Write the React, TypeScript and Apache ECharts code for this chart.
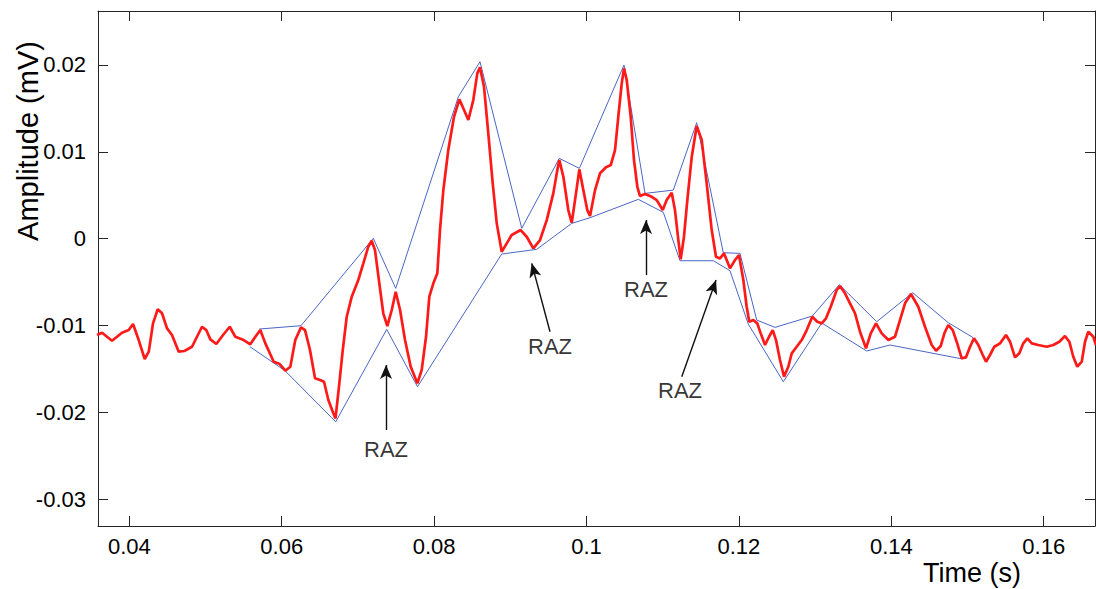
import React, { useEffect, useRef } from "react";
import * as echarts from "echarts";

// Red signal (time s, amplitude mV)
const redTime = [
  0.03576, 0.03642, 0.03773, 0.03904, 0.03992, 0.04049, 0.04123, 0.04202, 0.04255, 0.04311,
  0.04373, 0.04429, 0.04495, 0.0456, 0.04648, 0.04722, 0.04823, 0.04888, 0.04954, 0.0501,
  0.05063, 0.05142, 0.0523, 0.05318, 0.05391, 0.05501, 0.05588, 0.05654, 0.05719, 0.05785,
  0.05895, 0.05974, 0.06047, 0.06113, 0.06178, 0.06253, 0.06306, 0.06371, 0.06437, 0.06503,
  0.06555, 0.06612, 0.06677, 0.06706, 0.06756, 0.06801, 0.06853, 0.06919, 0.07005, 0.07071,
  0.07136, 0.07181, 0.07224, 0.07281, 0.07333, 0.07386, 0.07444, 0.07496, 0.07553, 0.07618,
  0.07693, 0.0778, 0.07837, 0.07894, 0.07937, 0.0799, 0.08042, 0.08077, 0.08121, 0.08186,
  0.08261, 0.08331, 0.08383, 0.08449, 0.08514, 0.08567, 0.08602, 0.08655, 0.08711, 0.08769,
  0.08822, 0.08887, 0.08953, 0.09018, 0.09136, 0.09215, 0.09302, 0.0939, 0.09478, 0.09564,
  0.09617, 0.09643, 0.09696, 0.09761, 0.09806, 0.09862, 0.09906, 0.09958, 0.1001, 0.10046,
  0.10112, 0.10177, 0.10256, 0.10318, 0.10374, 0.10417, 0.10462, 0.10492, 0.10528, 0.1058,
  0.10623, 0.10667, 0.10702, 0.10768, 0.10856, 0.10921, 0.11, 0.11052, 0.11118, 0.11161,
  0.11205, 0.11236, 0.11279, 0.11323, 0.11381, 0.11446, 0.11512, 0.11577, 0.11643, 0.11699,
  0.11752, 0.11804, 0.11883, 0.11949, 0.12001, 0.12058, 0.12102, 0.12136, 0.12189, 0.12241,
  0.12286, 0.12343, 0.12395, 0.12444, 0.12487, 0.12539, 0.12592, 0.12648, 0.12693, 0.12758,
  0.12824, 0.1289, 0.12963, 0.13029, 0.13087, 0.13143, 0.13205, 0.13283, 0.13327, 0.13392,
  0.13458, 0.13524, 0.13589, 0.13668, 0.1373, 0.13799, 0.13874, 0.13961, 0.14048, 0.14114,
  0.1418, 0.14258, 0.14354, 0.14442, 0.1453, 0.14587, 0.14648, 0.14696, 0.14748, 0.14806,
  0.14858, 0.14924, 0.1498, 0.15033, 0.15085, 0.15142, 0.152, 0.15243, 0.15295, 0.15352,
  0.15427, 0.15505, 0.15558, 0.15623, 0.1568, 0.15732, 0.15785, 0.15843, 0.15929, 0.16039,
  0.16126, 0.16205, 0.16279, 0.16336, 0.16388, 0.16441, 0.16499, 0.16542, 0.16585, 0.16651,
  0.16686,
];
const redAmp = [
  -0.01108, -0.01082, -0.01174, -0.01082, -0.01051, -0.00982, -0.01166, -0.01384, -0.013, -0.00974,
  -0.00812, -0.00858, -0.01031, -0.01108, -0.013, -0.01292, -0.01243, -0.01128, -0.01013, -0.01051,
  -0.01158, -0.01212, -0.01108, -0.01013, -0.01128, -0.01166, -0.01215, -0.01128, -0.01051, -0.01204,
  -0.01415, -0.01442, -0.01519, -0.01473, -0.01166, -0.0102, -0.01051, -0.01281, -0.01606, -0.01626,
  -0.01646, -0.01856, -0.02009, -0.02067, -0.01664, -0.01281, -0.00898, -0.00667, -0.00475, -0.00283,
  -0.00092, -0.00023, -0.0013, -0.00513, -0.00858, -0.01005, -0.0082, -0.0061, -0.0082, -0.01166,
  -0.01473, -0.01664, -0.01511, -0.01128, -0.00667, -0.00513, -0.00398, 0.001, 0.0056, 0.01021,
  0.01404, 0.01604, 0.01501, 0.01366, 0.01596, 0.01903, 0.01972, 0.01749, 0.01213, 0.00638,
  0.00177, -0.0015, -0.00053, 0.00043, 0.001, 0.00023, -0.0011, -0.00015, 0.00215, 0.00522,
  0.00791, 0.00906, 0.00713, 0.0033, 0.00184, 0.00522, 0.00799, 0.0056, 0.0033, 0.00261,
  0.0056, 0.00753, 0.00822, 0.00848, 0.01021, 0.01404, 0.01788, 0.01961, 0.01826, 0.01404,
  0.00906, 0.00598, 0.00491, 0.00514, 0.00483, 0.00445, 0.0033, 0.00445, 0.00529, 0.0033,
  -0.00015, -0.00237, 0.00023, 0.00445, 0.00944, 0.01297, 0.01136, 0.00638, 0.001, -0.00207,
  -0.00226, -0.00168, -0.00341, -0.00245, -0.00188, -0.00475, -0.00783, -0.00955, -0.00936, -0.00974,
  -0.01089, -0.01223, -0.01128, -0.01051, -0.01166, -0.01396, -0.01588, -0.01473, -0.01319, -0.01243,
  -0.01166, -0.01051, -0.00898, -0.00955, -0.00974, -0.00916, -0.00783, -0.0059, -0.00544, -0.00628,
  -0.00743, -0.00858, -0.0107, -0.01261, -0.01089, -0.00974, -0.01089, -0.01166, -0.01128, -0.00936,
  -0.00743, -0.00636, -0.00783, -0.01013, -0.01223, -0.01289, -0.01235, -0.01089, -0.00993, -0.01051,
  -0.01185, -0.01376, -0.01365, -0.01243, -0.01146, -0.01223, -0.01338, -0.01415, -0.01338, -0.01243,
  -0.01204, -0.01108, -0.01185, -0.01365, -0.01319, -0.01204, -0.01146, -0.01204, -0.01223, -0.01243,
  -0.01223, -0.01185, -0.0112, -0.01185, -0.01358, -0.01473, -0.01415, -0.01185, -0.0107, -0.01128,
  -0.01223,
];

// Upper envelope (blue)
const upperTime = [
  0.05706, 0.06253, 0.07202, 0.07496, 0.08318, 0.08602, 0.0915, 0.09643, 0.09906, 0.10492,
  0.10768, 0.11139, 0.11446, 0.11795, 0.12014, 0.12234, 0.12474, 0.12963, 0.13318, 0.13808,
  0.14281, 0.14748, 0.15072,
];
const upperAmp = [
  -0.01039, -0.01001, 0.00005, -0.00571, 0.01634, 0.02037, 0.0012, 0.00925, 0.0081, 0.01999,
  0.00522, 0.0056, 0.01335, -0.00161, -0.00168, -0.00936, -0.0102, -0.0089, -0.00529, -0.00955,
  -0.00621, -0.00967, -0.01137,
];

// Lower envelope (blue)
const lowerTime = [
  0.05584, 0.06043, 0.06709, 0.07378, 0.07782, 0.08887, 0.09346, 0.09806, 0.10046, 0.1068,
  0.11008, 0.11227, 0.11664, 0.11883, 0.12123, 0.12583, 0.13087, 0.13677, 0.13983, 0.14934,
];
const lowerAmp = [
  -0.01243, -0.01519, -0.02106, -0.01043, -0.01703, -0.00176, -0.00122, 0.00177, 0.00242, 0.00453,
  0.00304, -0.00253, -0.00253, -0.00368, -0.00982, -0.01646, -0.0097, -0.01292, -0.01223, -0.01384,
];

// Annotations: "RAZ" labels and arrows (tail -> tip)
const razText = ["RAZ", "RAZ", "RAZ", "RAZ"];
const razLabelTime = [0.07369, 0.09521, 0.10781, 0.11227];
const razLabelAmp = [-0.02423, -0.01235, -0.00582, -0.01741];
const arrowTailTime = [0.07369, 0.09521, 0.10781, 0.1125];
const arrowTailAmp = [-0.02201, -0.0107, -0.00418, -0.01588];
const arrowTipTime = [0.07369, 0.09281, 0.10781, 0.117];
const arrowTipAmp = [-0.01453, -0.00283, 0.00215, -0.00475];

// Axis ticks
const xTicks = [0.04, 0.06, 0.08, 0.1, 0.12, 0.14, 0.16];
const yTicks = [-0.03, -0.02, -0.01, 0, 0.01, 0.02];
const xMin = 0.03589;
const xMax = 0.16673;
const yMin = -0.03306;
const yMax = 0.02621;

const FONT = "'Liberation Sans', Arial, sans-serif";
const AXIS_COLOR = "#262626";
const TEXT_COLOR = "#000000";

const zip = (a: number[], b: number[]) => a.map((v, i) => [v, b[i]]);
const fmt = (v: number) => String(parseFloat(Number(v).toFixed(4)));

export default function App() {
  const ref = useRef<HTMLDivElement>(null);
  useEffect(() => {
    if (!ref.current) return;
    const chart = echarts.init(ref.current, undefined, { renderer: "svg" });
    const tickStyle = { lineStyle: { color: AXIS_COLOR, width: 1 } };
    const option: any = {
      animation: false,
      backgroundColor: "#ffffff",
      grid: { left: 98, right: 1, top: 11, bottom: 63, containLabel: false },
      xAxis: [
        {
          type: "value",
          position: "bottom",
          min: xMin,
          max: xMax,
          axisLine: { show: true, onZero: false, lineStyle: { color: AXIS_COLOR, width: 1 } },
          axisTick: { show: true, inside: true, length: 10, customValues: xTicks, ...tickStyle },
          axisLabel: {
            show: true,
            customValues: xTicks,
            formatter: (v: number) => fmt(v),
            color: TEXT_COLOR,
            fontFamily: FONT,
            fontSize: 22,
            margin: 9,
          },
          splitLine: { show: false },
        },
        {
          type: "value",
          position: "top",
          min: xMin,
          max: xMax,
          axisLine: { show: true, onZero: false, lineStyle: { color: AXIS_COLOR, width: 1 } },
          axisTick: { show: true, inside: true, length: 10, customValues: xTicks, ...tickStyle },
          axisLabel: { show: false },
          splitLine: { show: false },
        },
      ],
      yAxis: [
        {
          type: "value",
          position: "left",
          min: yMin,
          max: yMax,
          axisLine: { show: true, onZero: false, lineStyle: { color: AXIS_COLOR, width: 1 } },
          axisTick: { show: true, inside: true, length: 10, customValues: yTicks, ...tickStyle },
          axisLabel: {
            show: true,
            customValues: yTicks,
            formatter: (v: number) => fmt(v),
            color: TEXT_COLOR,
            fontFamily: FONT,
            fontSize: 22,
            margin: 12,
          },
          splitLine: { show: false },
        },
        {
          type: "value",
          position: "right",
          min: yMin,
          max: yMax,
          axisLine: { show: true, onZero: false, lineStyle: { color: AXIS_COLOR, width: 1 } },
          axisTick: { show: true, inside: true, length: 10, customValues: yTicks, ...tickStyle },
          axisLabel: { show: false },
          splitLine: { show: false },
        },
      ],
      series: [
        {
          type: "line",
          name: "upper",
          data: zip(upperTime, upperAmp),
          showSymbol: false,
          lineStyle: { color: "#4a66c4", width: 1 },
          silent: true,
          z: 2,
        },
        {
          type: "line",
          name: "lower",
          data: zip(lowerTime, lowerAmp),
          showSymbol: false,
          lineStyle: { color: "#4a66c4", width: 1 },
          silent: true,
          z: 2,
        },
        {
          type: "line",
          name: "signal",
          data: zip(redTime, redAmp),
          showSymbol: false,
          lineStyle: { color: "#ff1a1a", width: 2.7 },
          silent: true,
          z: 3,
          markLine: {
            silent: true,
            symbol: ["none", "arrow"],
            symbolSize: [9, 14],
            label: { show: false },
            lineStyle: { color: "#111111", width: 1.4, type: "solid" },
            data: arrowTailTime.map((t, i) => [
              { coord: [t, arrowTailAmp[i]] },
              { coord: [arrowTipTime[i], arrowTipAmp[i]] },
            ]),
          },
        },
        {
          type: "scatter",
          name: "labels",
          data: razLabelTime.map((t, i) => ({ value: [t, razLabelAmp[i]], name: razText[i] })),
          symbolSize: 0,
          silent: true,
          z: 5,
          label: {
            show: true,
            position: "inside",
            formatter: (p: any) => p.name,
            color: TEXT_COLOR,
            fontFamily: FONT,
            fontSize: 22,
          },
        },
      ],
      graphic: [
        {
          type: "text",
          x: 972,
          y: 573,
          style: {
            text: "Time (s)",
            align: "center",
            verticalAlign: "middle",
            fill: TEXT_COLOR,
            font: `27px ${FONT}`,
          },
        },
        {
          type: "text",
          x: 28,
          y: 141,
          rotation: Math.PI / 2,
          style: {
            text: "Amplitude (mV)",
            align: "center",
            verticalAlign: "middle",
            fill: TEXT_COLOR,
            font: `29px ${FONT}`,
          },
        },
      ],
    };
    chart.setOption(option);
    return () => chart.dispose();
  }, []);
  return (
    <div
      ref={ref}
      style={{ position: "fixed", left: 0, top: 0, width: 1096, height: 589, background: "#fff" }}
    />
  );
}
